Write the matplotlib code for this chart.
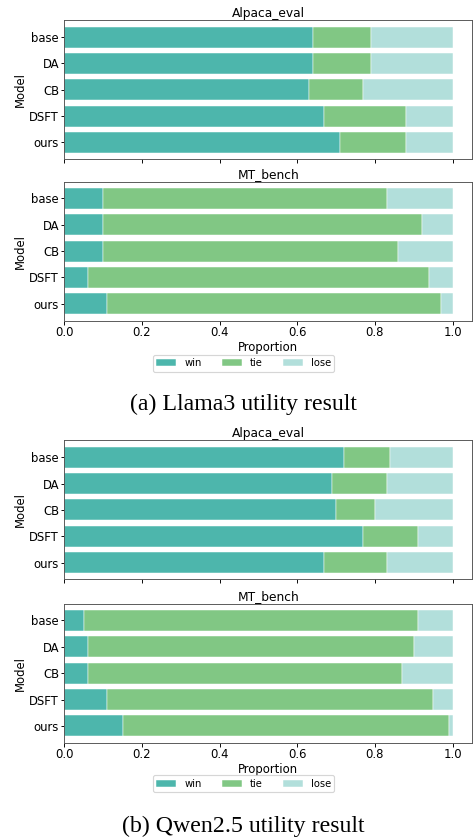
import matplotlib.pyplot as plt
import numpy as np

# Models (top to bottom)
models = ["base", "DA", "CB", "DSFT", "ours"]
outcomes = ["win", "tie", "lose"]
colors = ["#4DB6AC", "#81C784", "#B2DFDB"]

# Llama3 utility result
llama_alpaca_win = [0.64, 0.64, 0.63, 0.67, 0.71]
llama_alpaca_tie = [0.15, 0.15, 0.14, 0.21, 0.17]
llama_alpaca_lose = [0.21, 0.21, 0.23, 0.12, 0.12]

llama_mt_win = [0.10, 0.10, 0.10, 0.06, 0.11]
llama_mt_tie = [0.73, 0.82, 0.76, 0.88, 0.86]
llama_mt_lose = [0.17, 0.08, 0.14, 0.06, 0.03]

# Qwen2.5 utility result
qwen_alpaca_win = [0.72, 0.69, 0.70, 0.77, 0.67]
qwen_alpaca_tie = [0.12, 0.14, 0.10, 0.14, 0.16]
qwen_alpaca_lose = [0.16, 0.17, 0.20, 0.09, 0.17]

qwen_mt_win = [0.05, 0.06, 0.06, 0.11, 0.15]
qwen_mt_tie = [0.86, 0.84, 0.81, 0.84, 0.84]
qwen_mt_lose = [0.09, 0.10, 0.13, 0.05, 0.01]

panels = [
    ("Alpaca_eval", [llama_alpaca_win, llama_alpaca_tie, llama_alpaca_lose]),
    ("MT_bench", [llama_mt_win, llama_mt_tie, llama_mt_lose]),
    ("Alpaca_eval", [qwen_alpaca_win, qwen_alpaca_tie, qwen_alpaca_lose]),
    ("MT_bench", [qwen_mt_win, qwen_mt_tie, qwen_mt_lose]),
]

# axes bottoms in figure fraction
bottoms = [0.8099, 0.6173, 0.3085, 0.1137]
left, width, height = 0.1359, 0.862, 0.166

DPI = 84
fs = 10
fig = plt.figure(figsize=(473 / DPI, 838 / DPI), dpi=DPI)

axes = []
for (title, series), b in zip(panels, bottoms):
    ax = fig.add_axes([left, b, width, height])
    y = np.arange(len(models))
    start = np.zeros(len(models))
    for name, vals, c in zip(outcomes, series, colors):
        vals = np.array(vals)
        ax.barh(y, vals, left=start, height=0.8, color=c, label=name,
                edgecolor="white", linewidth=0.4)
        start += vals
    ax.set_yticks(y)
    ax.set_yticklabels(models, fontsize=fs)
    ax.invert_yaxis()
    ax.set_ylabel("Model", fontsize=fs, labelpad=2)
    ax.set_title(title, fontsize=10.5, pad=3)
    ax.set_xticks([0.0, 0.2, 0.4, 0.6, 0.8, 1.0])
    ax.tick_params(labelsize=fs, length=3, pad=1.5)
    for s in ax.spines.values():
        s.set_color("#555555")
    axes.append(ax)

for i, ax in enumerate(axes):
    if i % 2 == 0:
        ax.tick_params(labelbottom=False)
    else:
        ax.set_xlabel("Proportion", fontsize=fs, labelpad=1.5)

for ax, ly in [(axes[1], 0.5668), (axes[3], 0.065)]:
    h, l = ax.get_legend_handles_labels()
    fig.legend(h, l, loc="center", bbox_to_anchor=(0.5148, ly), ncol=3,
               fontsize=8.6, frameon=True, handlelength=2.0, columnspacing=2.0,
               borderpad=0.35)

fig.text(0.5148, 0.518, "(a) Llama3 utility result", ha="center", va="center",
         fontsize=20.5, family="Liberation Serif")
fig.text(0.5148, 0.0135, "(b) Qwen2.5 utility result", ha="center", va="center",
         fontsize=20.5, family="Liberation Serif")

fig.savefig("out.png", dpi=DPI)
